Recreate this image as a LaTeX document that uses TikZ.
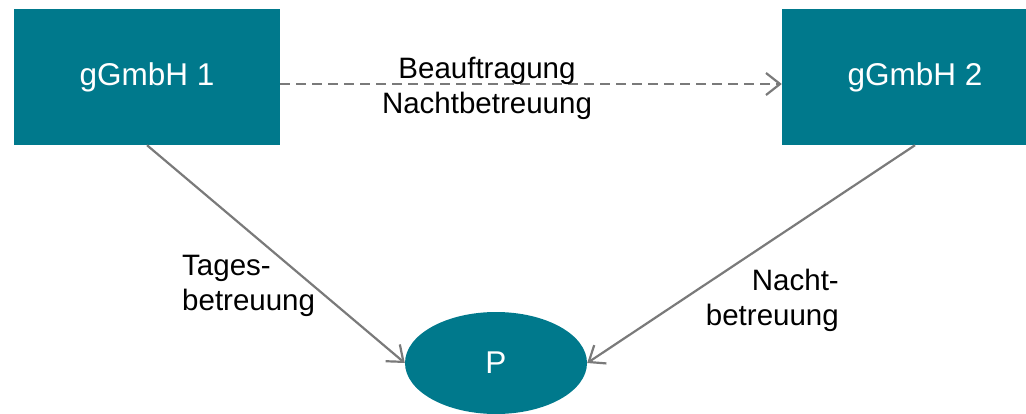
\documentclass[tikz,border=0pt]{standalone}
\usepackage{fontspec}
\setmainfont{Liberation Sans}
\usetikzlibrary{arrows.meta,shapes.geometric}
\definecolor{teal}{HTML}{00798C}
\definecolor{linegray}{HTML}{7A7A7A}
\tikzset{
  orgbox/.style={fill=teal, draw=none, minimum width=266pt, minimum height=136pt,
    inner sep=0pt, text=white, font=\fontsize{31.5}{36}\selectfont},
  person/.style={ellipse, fill=teal, draw=none, minimum width=182pt, minimum height=102pt,
    inner sep=0pt, text=white, font=\fontsize{31.5}{36}\selectfont},
  relation/.style={draw=linegray, line width=2.2pt,
    -{Straight Barb[length=14pt,width=22pt,line width=2.2pt]}},
  lbl/.style={text=black, inner sep=0pt, font=\fontsize{29.5}{35}\selectfont}
}
\begin{document}
\begin{tikzpicture}[x=1pt,y=-1pt]
  \useasboundingbox (0,0) rectangle (1026,413);
  \clip (0,0) rectangle (1026,413);

  % organisations and the person cared for
  \node[orgbox] (g1) at (147,77) {gGmbH 1};
  \node[orgbox] (g2) at (915,77) {gGmbH 2};
  \node[person] (p) at (496,363) {P};

  % commissioning of night care
  \draw[relation, dashed, dash pattern=on 10pt off 6pt]
    ([yshift=-7pt]g1.east) -- ([yshift=-7pt]g2.west);
  \node[lbl, align=center, anchor=base] (auftrag) at (487,113) {Beauftragung\\Nachtbetreuung};

  % care relations
  \draw[relation] (g1.south) -- (p.west);
  \draw[relation] (g2.south) -- (p.east);
  \node[lbl, align=left, anchor=base west] (tag) at (182,310) {Tages-\\betreuung};
  \node[lbl, align=right, anchor=base east] (nacht) at (839,325) {Nacht-\\betreuung};
\end{tikzpicture}
\end{document}
